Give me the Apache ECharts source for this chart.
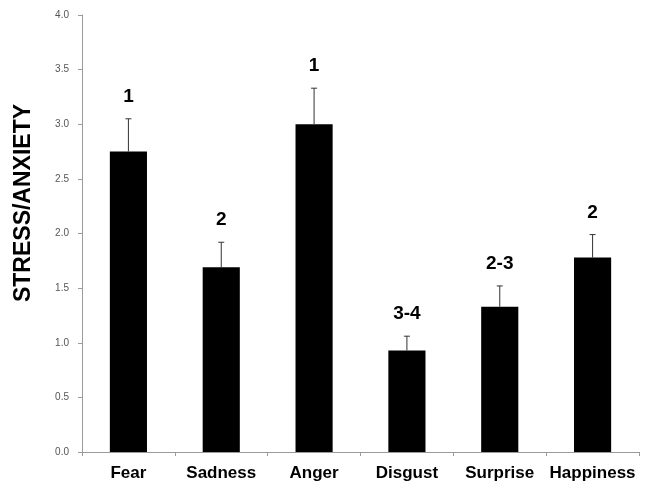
<!DOCTYPE html>
<html><head><meta charset="utf-8">
<script src="https://cdn.jsdelivr.net/npm/echarts@6/dist/echarts.min.js"></script>
<style>html,body{margin:0;padding:0;background:#fff}#c{width:650px;height:485px}</style>
</head><body><div id="c"></div>
<script>
var categories = ['Fear','Sadness','Anger','Disgust','Surprise','Happiness'];
var means = [2.75, 1.69, 3.00, 0.93, 1.33, 1.78];
var errors = [0.30, 0.23, 0.33, 0.13, 0.19, 0.21];
var groups = ['1','2','1','3-4','2-3','2'];
var yTicks = ['0.0','0.5','1.0','1.5','2.0','2.5','3.0','3.5','4.0'];

var errData = categories.map(function(c,i){ return [i, means[i], means[i]+errors[i], groups[i]]; });
var FONT = '"Liberation Sans", Arial, sans-serif';

var chart = echarts.init(document.getElementById('c'), null, {renderer:'canvas'});
chart.setOption({
  animation:false,
  grid:{left:82, right:11, top:15, bottom:33},
  xAxis:{
    type:'category', data:categories,
    axisLine:{lineStyle:{color:'#9a9a9a', width:1}},
    axisTick:{show:true, interval:0, length:4, lineStyle:{color:'#9a9a9a'}},
    axisLabel:{interval:0, hideOverlap:false, color:'#000', fontFamily:FONT, fontWeight:'bold', fontSize:17, margin:13}
  },
  yAxis:{
    type:'value', min:0, max:4, interval:0.5,
    splitLine:{show:false},
    axisLine:{show:true, lineStyle:{color:'#9a9a9a', width:1}},
    axisTick:{show:true, length:4, lineStyle:{color:'#9a9a9a'}},
    axisLabel:{color:'#555', fontFamily:FONT, fontSize:10, margin:13,
      formatter:function(v){ return yTicks[Math.round(v/0.5)]; }}
  },
  graphic:[{
    type:'text', x:24, y:203, rotation:Math.PI/2,
    style:{text:'STRESS/ANXIETY', font:'bold 23px '+FONT, fill:'#000', align:'center', verticalAlign:'middle'}
  }],
  series:[
    {type:'bar', data:means, barWidth:'40%', itemStyle:{color:'#000'}, z:2},
    {type:'custom', z:3, data:errData,
      renderItem:function(params, api){
        var base = api.coord([api.value(0), api.value(1)]);
        var top = api.coord([api.value(0), api.value(2)]);
        var cap = 3;
        return {type:'group', children:[
          {type:'line', shape:{x1:base[0], y1:base[1], x2:top[0], y2:top[1]}, style:{stroke:'#333', lineWidth:1}},
          {type:'line', shape:{x1:top[0]-cap, y1:top[1], x2:top[0]+cap, y2:top[1]}, style:{stroke:'#333', lineWidth:1}},
          {type:'text', x:top[0], y:top[1]-22, style:{text:groups[params.dataIndex], font:'bold 19px '+FONT, fill:'#000', align:'center', verticalAlign:'middle'}}
        ]};
      }
    }
  ]
});
</script></body></html>
